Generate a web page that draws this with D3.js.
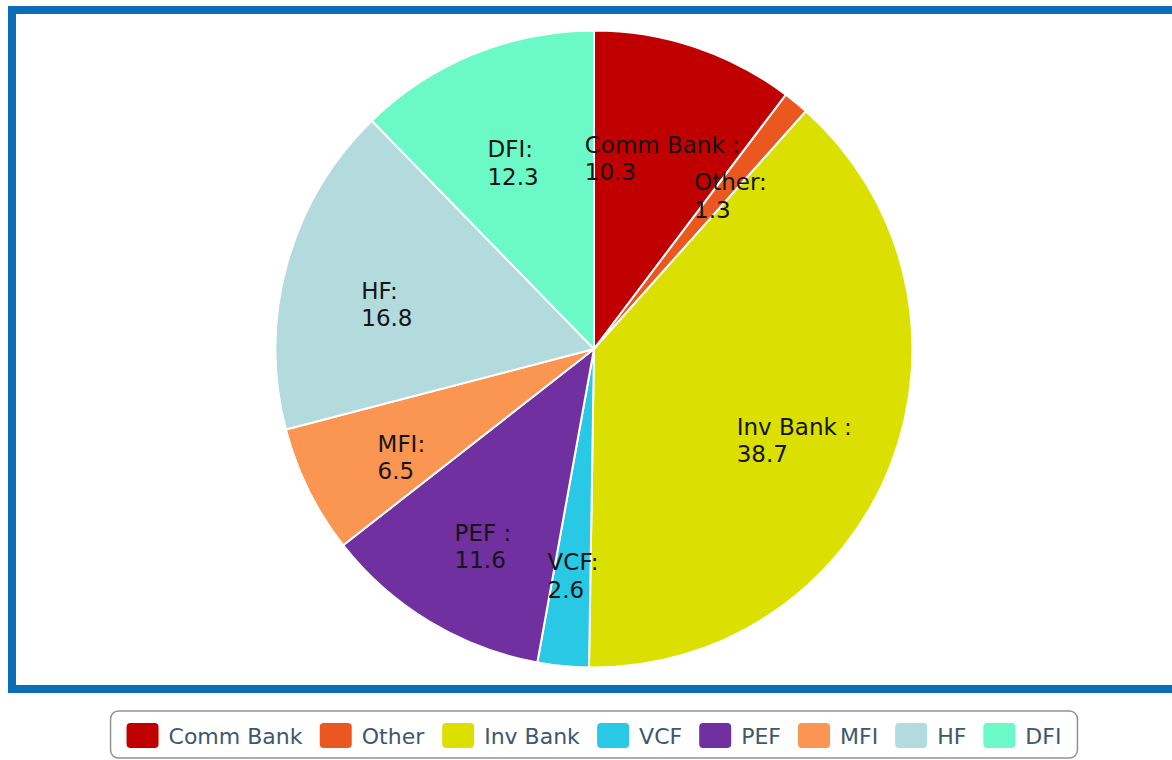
<!DOCTYPE html>
<html>
<head>
<meta charset="utf-8">
<script src="https://cdn.jsdelivr.net/npm/d3@7"></script>
<style>
  body { margin: 0; background: #fff; }
  svg { display: block; }
</style>
</head>
<body>
<svg width="1172" height="760"></svg>
<script>
// slices in drawing order, clockwise from 12 o'clock
const categories = ["Comm Bank", "Other", "Inv Bank", "VCF", "PEF", "MFI", "HF", "DFI"];
const values = [10.3, 1.3, 38.7, 2.6, 11.6, 6.5, 16.8, 12.3];
const labelText = ["Comm Bank :", "Other:", "Inv Bank :", "VCF:", "PEF :", "MFI:", "HF:", "DFI:"];
const colors = ["#c00000", "#ea5820", "#dbe000", "#29c8e4", "#7030a0", "#fb9552", "#b3dadd", "#6cf9c8"];

const svg = d3.select("svg");
const cx = 594, cy = 349, radius = 318.5;

// blue frame, runs off the right edge like the reference
svg.append("rect")
  .attr("x", 12).attr("y", 10)
  .attr("width", 1180).attr("height", 679)
  .attr("fill", "#fff")
  .attr("stroke", "#0b6db6")
  .attr("stroke-width", 8);

const color = d3.scaleOrdinal().domain(categories).range(colors);
const data = categories.map((c, i) => ({ name: c, value: values[i], label: labelText[i] }));

const pie = d3.pie().sort(null).value(d => d.value);
const arc = d3.arc().innerRadius(0).outerRadius(radius);
const labelArc = d3.arc().innerRadius(radius * 0.675).outerRadius(radius * 0.675);

const g = svg.append("g").attr("transform", `translate(${cx},${cy})`);
const arcs = pie(data);

g.selectAll("path")
  .data(arcs)
  .enter().append("path")
    .attr("d", arc)
    .attr("fill", d => color(d.data.name))
    .attr("stroke", "#fff")
    .attr("stroke-width", 2)
    .attr("stroke-linejoin", "round");

// two line labels: box centred on the point, first line sits on it
const labels = g.selectAll("text.lbl")
  .data(arcs)
  .enter().append("text")
    .attr("class", "lbl")
    .style("font-family", "'DejaVu Sans', Verdana, sans-serif")
    .style("font-size", "23px")
    .attr("fill", "#151515");

labels.each(function(d) {
  const t = d3.select(this);
  const [px, py] = labelArc.centroid(d);
  t.append("tspan").attr("x", 0).attr("y", 0).text(d.data.label);
  t.append("tspan").attr("x", 0).attr("dy", "1.2em").text(d.data.value);
  const w = this.getBBox().width;
  t.attr("transform", `translate(${px - w / 2},${py + 7.5})`);
});

// legend
const legend = svg.append("g");
const legendItems = legend.selectAll("g.item")
  .data(data)
  .enter().append("g").attr("class", "item");

legendItems.append("rect")
  .attr("width", 32).attr("height", 25)
  .attr("rx", 4).attr("y", -12.5)
  .attr("fill", d => color(d.name));

legendItems.append("text")
  .attr("x", 42).attr("y", 8)
  .style("font-family", "'DejaVu Sans', Verdana, sans-serif")
  .style("font-size", "22px")
  .attr("fill", "#3e576f")
  .text(d => d.name);

let offs = [], acc = 0;
const gap = 17;
legendItems.each(function() {
  offs.push(acc);
  acc += this.getBBox().width + gap;
});
const totalW = acc - gap;
const startX = cx - totalW / 2;
legendItems.attr("transform", (d, i) => `translate(${startX + offs[i]},735.5)`);

legend.insert("rect", ":first-child")
  .attr("x", startX - 16).attr("y", 711)
  .attr("width", totalW + 32).attr("height", 47)
  .attr("rx", 8)
  .attr("fill", "#fff")
  .attr("stroke", "#929292")
  .attr("stroke-width", 1.5);
</script>
</body>
</html>
